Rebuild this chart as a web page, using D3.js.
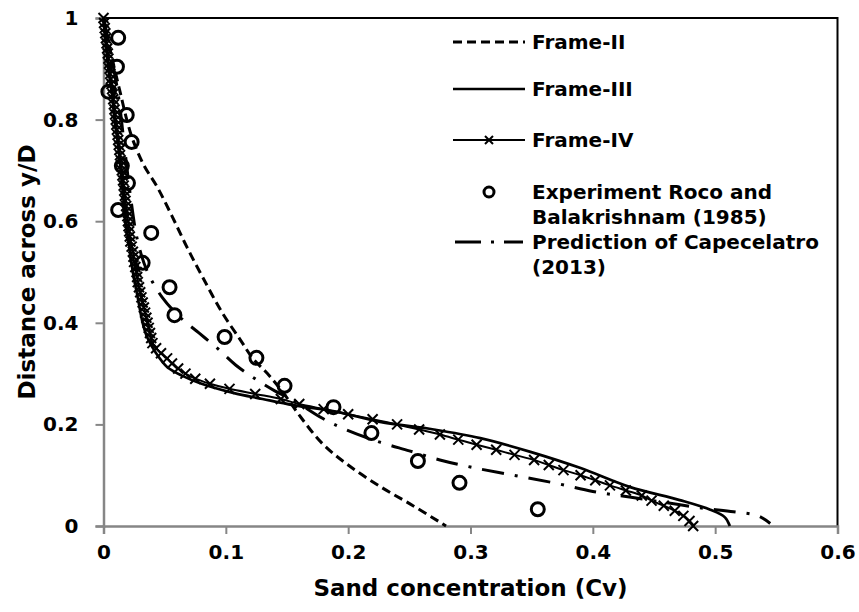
<!DOCTYPE html>
<html>
<head>
<meta charset="utf-8">
<script src="https://cdn.jsdelivr.net/npm/d3@7"></script>
<style>
  html, body { margin: 0; padding: 0; background: #fff; }
  text { font-family: "DejaVu Sans", Verdana, sans-serif; font-weight: bold; fill: #000; }
</style>
</head>
<body>
<svg id="chart" width="859" height="612"></svg>
<script>
// ---- data ----
const xTicks = [0, 0.1, 0.2, 0.3, 0.4, 0.5, 0.6];
const yTicks = [0, 0.2, 0.4, 0.6, 0.8, 1];

// Frame-II (dashed): [Cv, y/D]
const frame2 = [
  [0, 1], [0.004, 0.95], [0.009, 0.9], [0.014, 0.85], [0.019, 0.8], [0.024, 0.76],
  [0.033, 0.71], [0.044, 0.667], [0.056, 0.61], [0.068, 0.55], [0.081, 0.49],
  [0.097, 0.42], [0.112, 0.366], [0.122, 0.33], [0.134, 0.30], [0.147, 0.262],
  [0.161, 0.215], [0.179, 0.162], [0.2, 0.12], [0.226, 0.078], [0.253, 0.04], [0.28, 0.0]
];

// Frame-III (solid)
const frame3 = [
  [0, 1], [0.002, 0.95], [0.004, 0.9], [0.007, 0.85], [0.009, 0.8], [0.012, 0.75],
  [0.014, 0.7], [0.016, 0.65], [0.018, 0.6], [0.021, 0.55], [0.024, 0.5], [0.028, 0.45],
  [0.032, 0.4], [0.036, 0.37], [0.043, 0.34], [0.052, 0.313], [0.065, 0.295],
  [0.079, 0.281], [0.106, 0.262], [0.13, 0.25], [0.155, 0.238], [0.19, 0.225],
  [0.226, 0.205], [0.27, 0.19], [0.308, 0.173], [0.349, 0.146], [0.39, 0.114],
  [0.43, 0.077], [0.471, 0.051], [0.496, 0.032], [0.508, 0.017], [0.512, 0]
];

// Frame-IV (line with x markers)
const frame4 = [
  [0, 1], [0.0005, 0.99], [0.001, 0.98], [0.0015, 0.97], [0.002, 0.96], [0.0025, 0.95],
  [0.003, 0.94], [0.0035, 0.93], [0.004, 0.92], [0.0045, 0.91], [0.005, 0.9], [0.0055, 0.89],
  [0.006, 0.88], [0.0065, 0.87], [0.007, 0.86], [0.0075, 0.85], [0.008, 0.84], [0.0085, 0.83],
  [0.009, 0.82], [0.0095, 0.81], [0.010, 0.8], [0.0105, 0.79], [0.011, 0.78], [0.0115, 0.77],
  [0.012, 0.76], [0.0125, 0.75], [0.013, 0.74], [0.0135, 0.73], [0.014, 0.72], [0.0145, 0.71],
  [0.015, 0.7], [0.0155, 0.69], [0.016, 0.68], [0.0165, 0.67], [0.017, 0.66], [0.0175, 0.65],
  [0.018, 0.64], [0.0185, 0.63], [0.019, 0.62], [0.0195, 0.61], [0.020, 0.6], [0.0205, 0.59],
  [0.021, 0.58], [0.0215, 0.57], [0.022, 0.56], [0.023, 0.55], [0.024, 0.54], [0.0245, 0.53],
  [0.025, 0.52], [0.026, 0.51], [0.027, 0.5], [0.0275, 0.49], [0.028, 0.48], [0.029, 0.47],
  [0.030, 0.46], [0.031, 0.45], [0.032, 0.44], [0.033, 0.43], [0.034, 0.42], [0.035, 0.41],
  [0.036, 0.4], [0.037, 0.39], [0.038, 0.38], [0.039, 0.37], [0.040, 0.36], [0.043, 0.35],
  [0.047, 0.34], [0.052, 0.33], [0.056, 0.32],
  [0.061, 0.31], [0.067, 0.30], [0.075, 0.29], [0.087, 0.28], [0.103, 0.27], [0.124, 0.26],
  [0.145, 0.25], [0.160, 0.24], [0.180, 0.23], [0.200, 0.22], [0.220, 0.21], [0.240, 0.20],
  [0.258, 0.19], [0.275, 0.18], [0.290, 0.17], [0.305, 0.16], [0.321, 0.15], [0.336, 0.14],
  [0.352, 0.13], [0.364, 0.12], [0.376, 0.11], [0.390, 0.10], [0.402, 0.09], [0.414, 0.08],
  [0.427, 0.07], [0.440, 0.06], [0.448, 0.05], [0.458, 0.04], [0.467, 0.03], [0.474, 0.02],
  [0.479, 0.01], [0.482, 0.0]
];

// Experiment Roco and Balakrishnam (1985)
const experiment = [
  [0.012, 0.961], [0.011, 0.904], [0.004, 0.855], [0.019, 0.809], [0.023, 0.756],
  [0.015, 0.709], [0.020, 0.675], [0.012, 0.622], [0.039, 0.577], [0.032, 0.518],
  [0.054, 0.470], [0.058, 0.415], [0.099, 0.372], [0.125, 0.331], [0.148, 0.276],
  [0.188, 0.234], [0.219, 0.183], [0.257, 0.128], [0.291, 0.085], [0.355, 0.033]
];

// Prediction of Capecelatro (2013) (dash-dot)
const capecelatro = [
  [0, 1], [0.006, 0.93], [0.012, 0.85], [0.017, 0.75], [0.022, 0.65], [0.028, 0.56],
  [0.036, 0.5], [0.048, 0.45], [0.063, 0.41], [0.078, 0.38], [0.093, 0.35], [0.108, 0.317],
  [0.125, 0.288], [0.14, 0.266], [0.155, 0.248], [0.179, 0.212], [0.198, 0.19],
  [0.226, 0.165], [0.25, 0.148], [0.275, 0.13], [0.3, 0.116], [0.335, 0.1], [0.37, 0.084],
  [0.4, 0.068], [0.43, 0.057], [0.46, 0.046], [0.49, 0.035], [0.515, 0.028],
  [0.535, 0.02], [0.545, 0.005]
];

const legendLabels = [
  ["Frame-II"], ["Frame-III"], ["Frame-IV"],
  ["Experiment Roco and", "Balakrishnam (1985)"],
  ["Prediction of Capecelatro", "(2013)"]
];

// ---- drawing ----
const svg = d3.select("#chart");
const x = d3.scaleLinear().domain([0, 0.6]).range([103.5, 837.5]);
const y = d3.scaleLinear().domain([0, 1]).range([526, 18]);

const gridColor = "#868686";

// plot area border (top/right black)
svg.append("path")
  .attr("d", `M${x(0)},${y(1)}H${x(0.6)}V${y(0)}`)
  .attr("fill", "none").attr("stroke", "#000").attr("stroke-width", 2);

// axes
const xAxis = svg.append("g").attr("transform", `translate(0,${y(0)})`)
  .call(d3.axisBottom(x).tickValues(xTicks).tickSize(8).tickPadding(11)
    .tickFormat(d => d === 0 ? "0" : d3.format(".1f")(d)));
const yAxis = svg.append("g").attr("transform", `translate(${x(0)},0)`)
  .call(d3.axisLeft(y).tickValues(yTicks).tickSize(8).tickPadding(17)
    .tickFormat(d => (d === 0 || d === 1) ? String(d) : d3.format(".1f")(d)));
[xAxis, yAxis].forEach(g => {
  g.select(".domain").attr("stroke", gridColor).attr("stroke-width", 2.5);
  g.selectAll(".tick line").attr("stroke", gridColor).attr("stroke-width", 2);
  g.selectAll(".tick text").style("font-size", "20px").style("font-family", "DejaVu Sans")
    .style("font-weight", "bold").attr("fill", "#000");
});

// axis titles
svg.append("text").attr("x", 470.5).attr("y", 596).attr("text-anchor", "middle")
  .style("font-size", "23px").text("Sand concentration (Cv)");
svg.append("text").attr("transform", `translate(27,${(y(0) + y(1)) / 2}) rotate(-90)`)
  .attr("text-anchor", "middle").attr("dy", "0.35em")
  .style("font-size", "23px").text("Distance across y/D");

const line = d3.line().x(d => x(d[0])).y(d => y(d[1])).curve(d3.curveCatmullRom.alpha(0.5));

const plot = svg.append("g");

plot.append("path").datum(frame2).attr("d", line)
  .attr("fill", "none").attr("stroke", "#000").attr("stroke-width", 3).attr("stroke-dasharray", "9,5");

plot.append("path").datum(frame3).attr("d", line)
  .attr("fill", "none").attr("stroke", "#000").attr("stroke-width", 2.7);

plot.append("path").datum(frame4).attr("d", line)
  .attr("fill", "none").attr("stroke", "#000").attr("stroke-width", 2);

const xMark = (g, s) => g.append("path").attr("d", `M${-s},${-s}L${s},${s}M${-s},${s}L${s},${-s}`)
  .attr("stroke", "#000").attr("stroke-width", 2).attr("fill", "none");
plot.selectAll(".xm").data(frame4).join("g").attr("class", "xm")
  .attr("transform", d => `translate(${x(d[0])},${y(d[1])})`)
  .each(function () { xMark(d3.select(this), 5); });

plot.append("path").datum(capecelatro).attr("d", line)
  .attr("fill", "none").attr("stroke", "#000").attr("stroke-width", 3).attr("stroke-dasharray", "22,11,3,11");

plot.selectAll(".exp").data(experiment).join("circle").attr("class", "exp")
  .attr("cx", d => x(d[0])).attr("cy", d => y(d[1])).attr("r", 6.5)
  .attr("fill", "none").attr("stroke", "#000").attr("stroke-width", 3);

// legend
const lg = svg.append("g");
const rowY = [42, 89, 140, 192, 242];
const sx0 = 453, sx1 = 525, tx = 532;
legendLabels.forEach((lines, i) => {
  const yy = rowY[i];
  if (i === 0) lg.append("line").attr("x1", sx0).attr("x2", sx1).attr("y1", yy).attr("y2", yy)
    .attr("stroke", "#000").attr("stroke-width", 3).attr("stroke-dasharray", "9,5");
  if (i === 1) lg.append("line").attr("x1", sx0).attr("x2", sx1).attr("y1", yy).attr("y2", yy)
    .attr("stroke", "#000").attr("stroke-width", 2.7);
  if (i === 2) {
    lg.append("line").attr("x1", sx0).attr("x2", sx1).attr("y1", yy).attr("y2", yy)
      .attr("stroke", "#000").attr("stroke-width", 2);
    xMark(lg.append("g").attr("transform", `translate(${(sx0 + sx1) / 2},${yy})`), 4);
  }
  if (i === 3) lg.append("circle").attr("cx", (sx0 + sx1) / 2).attr("cy", yy).attr("r", 5)
    .attr("fill", "none").attr("stroke", "#000").attr("stroke-width", 3);
  if (i === 4) lg.append("line").attr("x1", 455).attr("x2", 523).attr("y1", yy).attr("y2", yy)
    .attr("stroke", "#000").attr("stroke-width", 3).attr("stroke-dasharray", "26,10,3,10");
  lines.forEach((t, j) => {
    lg.append("text").attr("x", tx).attr("y", yy + j * 25).attr("dy", "0.35em")
      .style("font-size", "20px").text(t);
  });
});
</script>
</body>
</html>
